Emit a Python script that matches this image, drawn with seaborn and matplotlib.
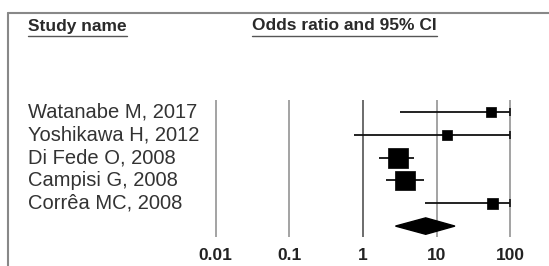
import matplotlib
matplotlib.use('agg')
from matplotlib import pyplot as plt
import seaborn as sns
import numpy as np
import pandas as pd

# data
studies = ['Watanabe M, 2017', 'Yoshikawa H, 2012', 'Di Fede O, 2008',
           'Campisi G, 2008', 'Corrêa MC, 2008']
odds_ratio = [55.0, 13.8, 2.95, 3.68, 57.0]
ci_lower = [3.2, 0.76, 1.67, 2.05, 6.9]
ci_upper = [500.0, 500.0, 4.97, 6.8, 500.0]   # >100 are cut at the axis end
weights = [9, 9, 36, 35, 11]
pooled = [2.76, 7.1, 17.7]   # lower, estimate, upper
tick_values = [0.01, 0.1, 1, 10, 100]
tick_labels = ['0.01', '0.1', '1', '10', '100']

sns.set_style('white')
plt.rcParams['font.family'] = ['Liberation Sans', 'DejaVu Sans']

fig = plt.figure(figsize=(5.49, 2.66), dpi=100)
ax = fig.add_axes([0, 0, 1, 1])
ax.set_xscale('log')
ax.set_xlim(10 ** -4.925, 10 ** 2.524)
ax.set_ylim(6.75, -4.91)
ax.axis('off')

# reference lines
for v, lab in zip(tick_values, tick_labels):
    col = '#444444' if v == 1 else '#8a8a8a'
    ax.vlines(v, -0.53, 5.48, color=col, lw=1.1)
    ax.text(v, 6.27, lab, ha='center', va='center', fontsize=12.5,
            fontweight='bold', color='#222222')

df = pd.DataFrame({'study': studies, 'or': odds_ratio, 'lo': ci_lower,
                   'hi': ci_upper, 'w': weights, 'row': range(len(studies))})
hi_cut = np.minimum(df['hi'], 100)
ax.hlines(df['row'], df['lo'], hi_cut, color='#111111', lw=1.3)
for r, h in zip(df['row'], df['hi']):
    if h > 100:
        ax.plot(100, r, marker='|', ms=6, color='#111111', mew=1.2)

sns.scatterplot(data=df, x='or', y='row', marker='s', s=df['w'] * 5.8,
                color='black', edgecolor='black', linewidth=0.5,
                legend=False, ax=ax, zorder=3)

# pooled diamond
d = 0.36
ax.fill([pooled[0], pooled[1], pooled[2], pooled[1]],
        [5, 5 - d, 5, 5 + d], color='black', zorder=3)

# study names
for r, name in zip(df['row'], df['study']):
    ax.text(28 / 549, r, name, transform=ax.get_yaxis_transform(),
            ha='left', va='center', fontsize=14.5, color='#333333')

# headers with underline
fig.canvas.draw()
rend = fig.canvas.get_renderer()
for xpix, txt in [(28, 'Study name'), (252, 'Odds ratio and 95% CI')]:
    t = fig.text(xpix / 549, 1 - 26 / 266, txt, ha='left', va='center',
                 fontsize=12.5, fontweight='bold', color='#2a2a2a')
    bb = t.get_window_extent(rend)
    y = (bb.y0 - 2) / 266
    fig.add_artist(plt.Line2D([bb.x0 / 549, bb.x1 / 549], [y, y],
                              color='#555555', lw=1))

# frame
fig.add_artist(plt.Line2D([8 / 549, 8 / 549], [0, 1 - 13 / 266],
                          color='#888888', lw=1.5))
fig.add_artist(plt.Line2D([8 / 549, 1], [1 - 13 / 266, 1 - 13 / 266],
                          color='#888888', lw=1.5))

fig.savefig('out.png', dpi=100)
